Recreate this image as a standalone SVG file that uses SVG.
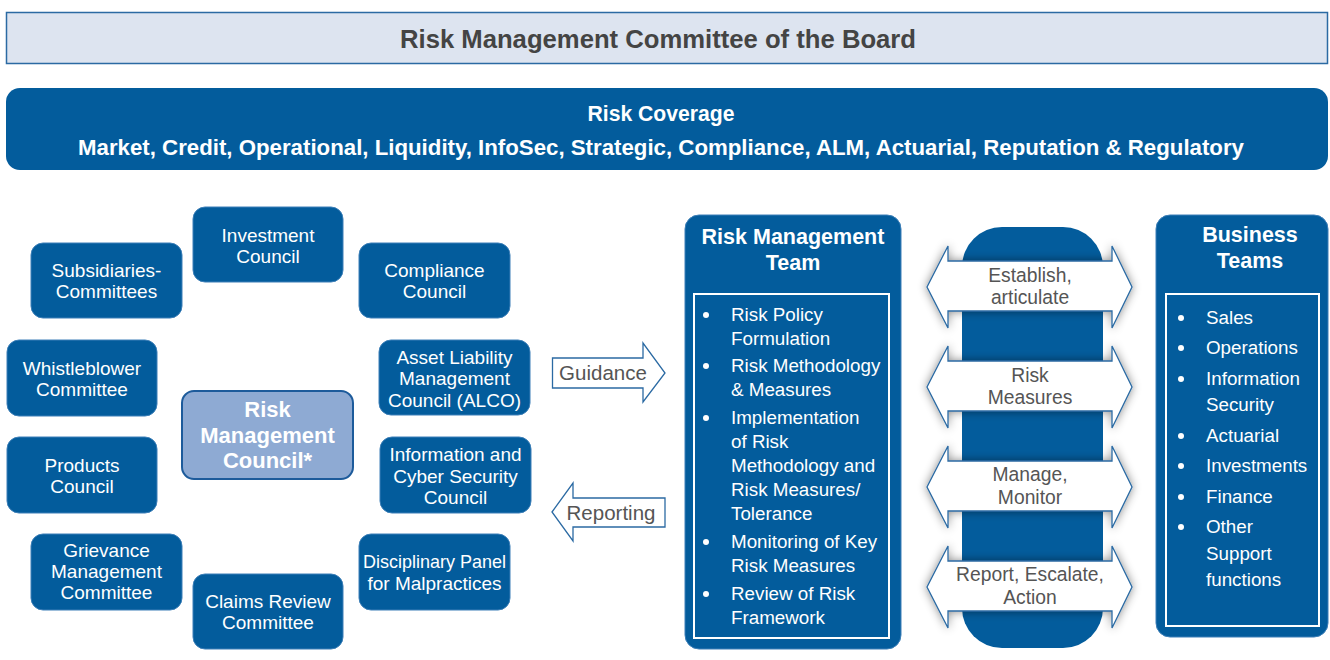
<svg xmlns="http://www.w3.org/2000/svg" width="1330" height="660" viewBox="0 0 1330 660">
<style>
  .node{fill:#035c9c;stroke:#3d7fb8;stroke-width:1}
  .nt{font-family:"Liberation Sans",Arial,sans-serif;font-size:19px;fill:#ffffff;text-anchor:middle}
  .bt{font-family:"Liberation Sans",Arial,sans-serif;font-weight:bold;fill:#ffffff;text-anchor:middle}
  .li{font-family:"Liberation Sans",Arial,sans-serif;font-size:18.8px;fill:#ffffff}
  .at{font-family:"Liberation Sans",Arial,sans-serif;font-size:19.3px;fill:#555555;text-anchor:middle}
  .arr{fill:#ffffff;stroke:#2b6aa3;stroke-width:1.3}
  .dot{fill:#ffffff}
</style>
<defs>
  <filter id="sh" x="-20%" y="-40%" width="140%" height="180%">
    <feDropShadow dx="0" dy="0" stdDeviation="5" flood-color="#000000" flood-opacity="0.45"/>
  </filter>
</defs>
<rect width="1330" height="660" fill="#ffffff"/>

<g id="board">
  <rect x="6.5" y="12.5" width="1321" height="51" fill="#dde4f0" stroke="#2b6aa3" stroke-width="1.5"/>
  <text x="658" y="48" font-family="Liberation Sans,Arial,sans-serif" font-weight="bold" font-size="25" fill="#444444" text-anchor="middle" textLength="516" lengthAdjust="spacingAndGlyphs">Risk Management Committee of the Board</text>
</g>

<g id="coverage">
  <rect x="6" y="88" width="1322" height="82" rx="14" fill="#035c9c"/>
  <text x="661" y="121" class="bt" font-size="22" textLength="147" lengthAdjust="spacingAndGlyphs">Risk Coverage</text>
  <text x="661" y="155" class="bt" font-size="22" textLength="1166" lengthAdjust="spacingAndGlyphs">Market, Credit, Operational, Liquidity, InfoSec, Strategic, Compliance, ALM, Actuarial, Reputation &amp; Regulatory</text>
</g>

<g id="investment"><rect class="node" x="193" y="207" width="150" height="75" rx="12"/>
  <text class="nt"><tspan x="268" y="242">Investment</tspan><tspan x="268" y="263">Council</tspan></text></g>
<g id="subsidiaries"><rect class="node" x="31" y="243" width="151" height="75" rx="12"/>
  <text class="nt"><tspan x="106.5" y="277">Subsidiaries-</tspan><tspan x="106.5" y="298">Committees</tspan></text></g>
<g id="compliance"><rect class="node" x="359" y="243" width="151" height="75" rx="12"/>
  <text class="nt"><tspan x="434.5" y="277">Compliance</tspan><tspan x="434.5" y="298">Council</tspan></text></g>
<g id="whistleblower"><rect class="node" x="7" y="340" width="150" height="76" rx="12"/>
  <text class="nt"><tspan x="82" y="375">Whistleblower</tspan><tspan x="82" y="396">Committee</tspan></text></g>
<g id="alco"><rect class="node" x="379" y="340" width="151" height="75" rx="12"/>
  <text class="nt"><tspan x="454.5" y="364">Asset Liability</tspan><tspan x="454.5" y="385">Management</tspan><tspan x="454.5" y="407">Council (ALCO)</tspan></text></g>
<g id="rmc"><rect x="182" y="391" width="171" height="88" rx="12" fill="#8eaad3" stroke="#1d5b9b" stroke-width="2"/>
  <text class="bt" font-size="22"><tspan x="267.5" y="417">Risk</tspan><tspan x="267.5" y="443">Management</tspan><tspan x="267.5" y="468">Council*</tspan></text></g>
<g id="products"><rect class="node" x="7" y="437" width="150" height="76" rx="12"/>
  <text class="nt"><tspan x="82" y="472">Products</tspan><tspan x="82" y="493">Council</tspan></text></g>
<g id="infosec"><rect class="node" x="380" y="437" width="151" height="76" rx="12"/>
  <text class="nt"><tspan x="455.5" y="461">Information and</tspan><tspan x="455.5" y="483">Cyber Security</tspan><tspan x="455.5" y="504">Council</tspan></text></g>
<g id="grievance"><rect class="node" x="31" y="534" width="151" height="76" rx="12"/>
  <text class="nt"><tspan x="106.5" y="557">Grievance</tspan><tspan x="106.5" y="578">Management</tspan><tspan x="106.5" y="599">Committee</tspan></text></g>
<g id="disciplinary"><rect class="node" x="359" y="534" width="151" height="76" rx="12"/>
  <text class="nt"><tspan x="434.5" y="568" textLength="143" lengthAdjust="spacingAndGlyphs">Disciplinary Panel</tspan><tspan x="434.5" y="590">for Malpractices</tspan></text></g>
<g id="claims"><rect class="node" x="193" y="574" width="150" height="75" rx="12"/>
  <text class="nt"><tspan x="268" y="608">Claims Review</tspan><tspan x="268" y="629">Committee</tspan></text></g>

<g id="rmt">
  <rect x="685" y="215" width="216" height="434" rx="14" fill="#035c9c" stroke="#3d7fb8" stroke-width="1"/>
  <text class="bt" font-size="21.5"><tspan x="793" y="244">Risk Management</tspan><tspan x="793" y="270">Team</tspan></text>
  <rect x="694" y="294" width="195" height="344" fill="none" stroke="#ffffff" stroke-width="2"/>
  <circle class="dot" cx="706" cy="315" r="3"/>
  <circle class="dot" cx="706" cy="366" r="3"/>
  <circle class="dot" cx="706" cy="418" r="3"/>
  <circle class="dot" cx="706" cy="542" r="3"/>
  <circle class="dot" cx="706" cy="594" r="3"/>
  <text class="li">
    <tspan x="731" y="321">Risk Policy</tspan>
    <tspan x="731" y="345">Formulation</tspan>
    <tspan x="731" y="372">Risk Methodology</tspan>
    <tspan x="731" y="396">&amp; Measures</tspan>
    <tspan x="731" y="424">Implementation</tspan>
    <tspan x="731" y="448">of Risk</tspan>
    <tspan x="731" y="472">Methodology and</tspan>
    <tspan x="731" y="496">Risk Measures/</tspan>
    <tspan x="731" y="520">Tolerance</tspan>
    <tspan x="731" y="548">Monitoring of Key</tspan>
    <tspan x="731" y="572">Risk Measures</tspan>
    <tspan x="731" y="600">Review of Risk</tspan>
    <tspan x="731" y="624">Framework</tspan>
  </text>
</g>

<g id="pillar">
  <rect x="962" y="227" width="141" height="421" rx="40" fill="#035c9c"/>
</g>

<g id="business">
  <rect x="1156" y="215" width="172" height="422" rx="14" fill="#035c9c" stroke="#3d7fb8" stroke-width="1"/>
  <text class="bt" font-size="21.5"><tspan x="1250" y="242">Business</tspan><tspan x="1250" y="268">Teams</tspan></text>
  <rect x="1166" y="294" width="153" height="332" fill="none" stroke="#ffffff" stroke-width="2"/>
  <circle class="dot" cx="1181" cy="318" r="3"/>
  <circle class="dot" cx="1181" cy="348" r="3"/>
  <circle class="dot" cx="1181" cy="379" r="3"/>
  <circle class="dot" cx="1181" cy="436" r="3"/>
  <circle class="dot" cx="1181" cy="466" r="3"/>
  <circle class="dot" cx="1181" cy="497" r="3"/>
  <circle class="dot" cx="1181" cy="527" r="3"/>
  <text class="li" font-size="19">
    <tspan x="1206" y="324">Sales</tspan>
    <tspan x="1206" y="354">Operations</tspan>
    <tspan x="1206" y="385">Information</tspan>
    <tspan x="1206" y="411">Security</tspan>
    <tspan x="1206" y="442">Actuarial</tspan>
    <tspan x="1206" y="472">Investments</tspan>
    <tspan x="1206" y="503">Finance</tspan>
    <tspan x="1206" y="533">Other</tspan>
    <tspan x="1206" y="560">Support</tspan>
    <tspan x="1206" y="586">functions</tspan>
  </text>
</g>

<g id="connectors">
  <path class="arr" d="M552.5,358 L643,358 L643,343 L665,373 L643,402 L643,388 L552.5,388 Z"/>
  <text x="603" y="380" font-family="Liberation Sans,Arial,sans-serif" font-size="20.5" fill="#555555" text-anchor="middle">Guidance</text>
  <path class="arr" d="M552,512 L573,483 L573,498 L665,498 L665,527 L573,527 L573,541 Z"/>
  <text x="611" y="520" font-family="Liberation Sans,Arial,sans-serif" font-size="20.5" fill="#555555" text-anchor="middle">Reporting</text>

  <g filter="url(#sh)">
    <path class="arr" d="M927,287 L948,246 L948,261 L1112,261 L1112,246 L1132,287 L1112,328 L1112,311 L948,311 L948,328 Z"/>
    <path class="arr" d="M927,387 L948,346 L948,361 L1112,361 L1112,346 L1132,387 L1112,428 L1112,411 L948,411 L948,428 Z"/>
    <path class="arr" d="M927,487 L948,446 L948,461 L1112,461 L1112,446 L1132,487 L1112,528 L1112,511 L948,511 L948,528 Z"/>
    <path class="arr" d="M927,587 L948,546 L948,561 L1112,561 L1112,546 L1132,587 L1112,628 L1112,611 L948,611 L948,628 Z"/>
  </g>
  <text class="at"><tspan x="1030" y="282">Establish,</tspan><tspan x="1030" y="304">articulate</tspan></text>
  <text class="at"><tspan x="1030" y="382">Risk</tspan><tspan x="1030" y="404">Measures</tspan></text>
  <text class="at"><tspan x="1030" y="481">Manage,</tspan><tspan x="1030" y="504">Monitor</tspan></text>
  <text class="at"><tspan x="1030" y="581">Report, Escalate,</tspan><tspan x="1030" y="604">Action</tspan></text>
</g>
</svg>
